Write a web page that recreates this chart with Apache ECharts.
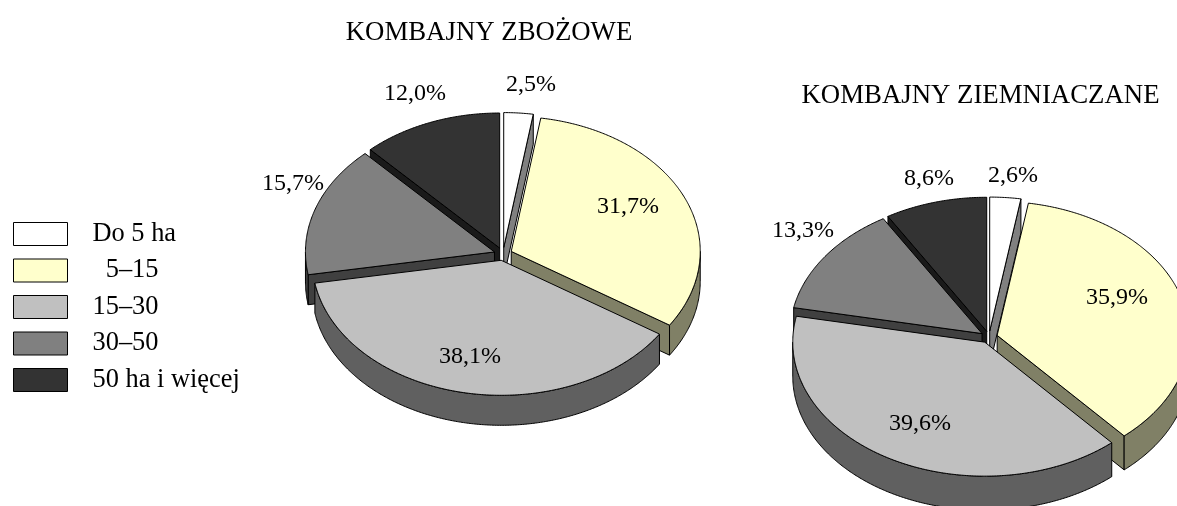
<!DOCTYPE html>
<html>
<head>
<meta charset="utf-8">
<style>
  html, body { margin: 0; padding: 0; background: #fff; }
  #chart { width: 1177px; height: 506px; }
</style>
<script src="https://cdn.jsdelivr.net/npm/echarts@6/dist/echarts.min.js"></script>
</head>
<body>
<div id="chart"></div>
<script>
// dane
var categories = ['Do 5 ha', '  5–15', '15–30', '30–50', '50 ha i więcej'];
var zbozoweValues = [2.5, 31.7, 38.1, 15.7, 12.0];
var ziemniaczaneValues = [2.6, 35.9, 39.6, 13.3, 8.6];
var zbozoweLabels = ['2,5%', '31,7%', '38,1%', '15,7%', '12,0%'];
var ziemniaczaneLabels = ['2,6%', '35,9%', '39,6%', '13,3%', '8,6%'];

// kolory
var topColors = ['#ffffff', '#ffffcc', '#c0c0c0', '#808080', '#333333'];
var wallColors = ['#808080', '#808066', '#606060', '#404040', '#1a1a1a'];

// uklad
var fontName = '"Liberation Serif", "Times New Roman", serif';
var labelSize = 24;
var titleSize = 26.8;
var legendSize = 26.4;
var zbozowePie = {
  cx: 503, cy: 254, rx: 189, ry: 135, depth: 30, explode: 9,
  values: zbozoweValues, labels: zbozoweLabels,
  labelPos: [[531, 85], [628, 207], [470, 357], [293, 184], [415, 94]]
};
var ziemniaczanePie = {
  cx: 989, cy: 337, rx: 192, ry: 134, depth: 34, explode: 8.5,
  values: ziemniaczaneValues, labels: ziemniaczaneLabels,
  labelPos: [[1013, 176], [1117, 298], [920, 424], [803, 231], [929, 179]]
};

function sum(arr) {
  return arr.reduce(function (a, b) { return a + b; }, 0);
}

// geometria wycinka, katy liczone od gory zgodnie z zegarem
function sliceGeometry(pie, idx) {
  var total = sum(pie.values);
  var start = sum(pie.values.slice(0, idx)) / total * 360;
  var end = start + pie.values[idx] / total * 360;
  var mid = (start + end) / 2 * Math.PI / 180;
  return {
    start: start,
    end: end,
    ax: pie.cx + pie.explode * Math.sin(mid),
    ay: pie.cy - pie.explode * (pie.ry / pie.rx) * Math.cos(mid)
  };
}

function rimPoints(pie, g, from, to, drop) {
  var pts = [];
  var steps = Math.max(2, Math.ceil((to - from) * 2));
  for (var i = 0; i <= steps; i++) {
    var a = (from + (to - from) * i / steps) * Math.PI / 180;
    pts.push([g.ax + pie.rx * Math.sin(a), g.ay - pie.ry * Math.cos(a) + drop]);
  }
  return pts;
}

function face(points, color) {
  return {
    type: 'polygon',
    shape: { points: points },
    style: { fill: color, stroke: '#000', lineWidth: 1, lineJoin: 'round' }
  };
}

function cutFace(pie, g, angle, color) {
  var p = rimPoints(pie, g, angle, angle, 0)[0];
  return face([
    [g.ax, g.ay], p, [p[0], p[1] + pie.depth], [g.ax, g.ay + pie.depth]
  ], color);
}

// sciana ciecia widoczna tylko gdy jej normalna patrzy do przodu
function facesFront(angle) {
  return Math.cos(angle * Math.PI / 180) < -0.001;
}

function sliceSeries(pie, idx) {
  return {
    name: categories[idx],
    type: 'custom',
    coordinateSystem: 'none',
    silent: true,
    animation: false,
    itemStyle: { color: topColors[idx] },
    data: [[pie.values[idx]]],
    renderItem: function () {
      var g = sliceGeometry(pie, idx);
      var children = [];
      if (facesFront(g.start - 90)) children.push(cutFace(pie, g, g.start, wallColors[idx]));
      if (facesFront(g.end + 90)) children.push(cutFace(pie, g, g.end, wallColors[idx]));
      // sciana boczna widoczna tylko z przodu
      var wallFrom = Math.max(g.start, 90);
      var wallTo = Math.min(g.end, 270);
      if (wallTo > wallFrom) {
        var upper = rimPoints(pie, g, wallFrom, wallTo, 0);
        var lower = rimPoints(pie, g, wallFrom, wallTo, pie.depth).reverse();
        children.push(face(upper.concat(lower), wallColors[idx]));
      }
      children.push(face([[g.ax, g.ay]].concat(rimPoints(pie, g, g.start, g.end, 0)), topColors[idx]));
      children.push({
        type: 'text',
        style: {
          x: pie.labelPos[idx][0],
          y: pie.labelPos[idx][1],
          text: pie.labels[idx],
          fill: '#000',
          font: labelSize + 'px ' + fontName,
          textAlign: 'center',
          textVerticalAlign: 'middle'
        }
      });
      return { type: 'group', children: children };
    }
  };
}

// rysujemy od tylu do przodu
function pieSeries(pie) {
  return categories.map(function (c, i) { return i; }).sort(function (a, b) {
    return sliceGeometry(pie, a).ay - sliceGeometry(pie, b).ay;
  }).map(function (i) { return sliceSeries(pie, i); });
}

var mychart = echarts.init(document.querySelector('#chart'));
mychart.setOption({
  backgroundColor: '#fff',
  animation: false,
  title: [
    {
      text: 'KOMBAJNY ZBOŻOWE', left: 484, top: 14, textAlign: 'center',
      textStyle: { fontFamily: fontName, fontSize: titleSize, fontWeight: 'normal', color: '#000' }
    },
    {
      text: 'KOMBAJNY ZIEMNIACZANE', left: 975.5, top: 77, textAlign: 'center',
      textStyle: { fontFamily: fontName, fontSize: titleSize, fontWeight: 'normal', color: '#000' }
    }
  ],
  legend: {
    orient: 'vertical',
    left: 13,
    top: 221,
    padding: 0,
    icon: 'rect',
    itemWidth: 54,
    itemHeight: 23,
    itemGap: 10.5,
    selectedMode: false,
    data: categories,
    itemStyle: { borderColor: '#000', borderWidth: 1 },
    textStyle: { fontFamily: fontName, fontSize: legendSize, color: '#000', padding: [0, 0, 0, 20] }
  },
  series: pieSeries(zbozowePie).concat(pieSeries(ziemniaczanePie))
});
</script>
</body>
</html>
